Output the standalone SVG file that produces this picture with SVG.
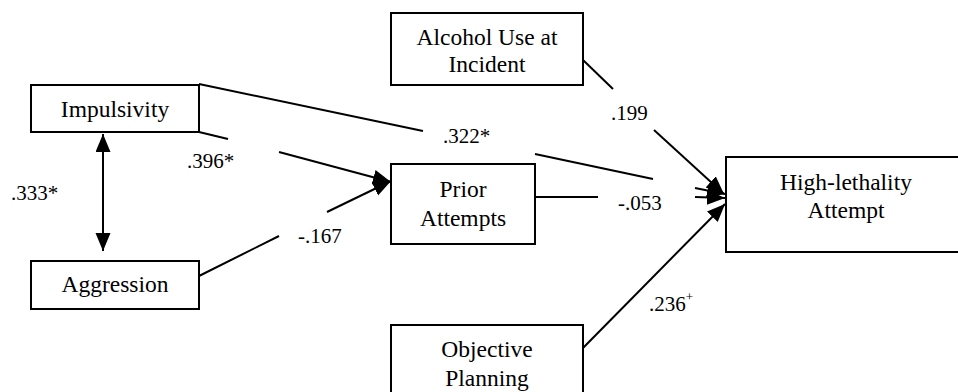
<svg xmlns="http://www.w3.org/2000/svg" width="958" height="392" viewBox="0 0 958 392">
<style>
.box{fill:#fff;stroke:#000;stroke-width:2}
.nt{font-size:23.5px;fill:#000;text-anchor:middle}
.lb{font-size:21px;fill:#000}
.ln{stroke:#000;stroke-width:2;fill:none}
.arr{marker-end:url(#ah)}
</style>
<defs>
<marker id="ah" markerUnits="userSpaceOnUse" markerWidth="19" markerHeight="16" refX="18" refY="7.5" orient="auto-start-reverse">
<path d="M0,0 L18,7.5 L0,15 z" fill="#000"/>
</marker>
</defs>
<rect width="958" height="392" fill="#fff"/>
<g id="connectors">
<line class="ln" x1="103" y1="134" x2="103" y2="251" marker-start="url(#ah)" marker-end="url(#ah)"/>
<line class="ln" x1="199" y1="132" x2="228" y2="139"/>
<line class="ln arr" x1="279" y1="152" x2="391" y2="182"/>
<line class="ln" x1="199" y1="276" x2="279" y2="236"/>
<line class="ln arr" x1="327" y1="212" x2="391" y2="181"/>
<line class="ln" x1="199" y1="84" x2="423" y2="131"/>
<line class="ln" x1="535" y1="154" x2="653" y2="179"/>
<line class="ln arr" x1="695" y1="188" x2="725" y2="194"/>
<line class="ln" x1="535" y1="197" x2="598" y2="197"/>
<line class="ln arr" x1="695" y1="197" x2="725" y2="198"/>
<line class="ln" x1="583" y1="60" x2="613" y2="89"/>
<line class="ln arr" x1="654" y1="130" x2="724" y2="194"/>
<line class="ln arr" x1="583" y1="348" x2="725" y2="204"/>
</g>
<g font-family="'Liberation Serif', 'Times New Roman', serif">
<g id="impulsivity"><rect class="box" x="31" y="85" width="168" height="47"/><text class="nt" x="115" y="117">Impulsivity</text></g>
<g id="aggression"><rect class="box" x="31" y="261" width="168" height="48"/><text class="nt" x="115" y="292">Aggression</text></g>
<g id="prior"><rect class="box" x="391" y="164" width="144" height="80"/><text class="nt" x="463" y="197">Prior</text><text class="nt" x="463" y="226">Attempts</text></g>
<g id="alcohol"><rect class="box" x="391" y="13" width="192" height="72"/><text class="nt" x="487" y="45">Alcohol Use at</text><text class="nt" x="487" y="72">Incident</text></g>
<g id="objective"><rect class="box" x="391" y="325" width="192" height="80"/><text class="nt" x="487" y="357">Objective</text><text class="nt" x="487" y="386">Planning</text></g>
<g id="highlethality"><rect class="box" x="726" y="157" width="240" height="95"/><text class="nt" x="846" y="190">High-lethality</text><text class="nt" x="846" y="218">Attempt</text></g>
<g id="labels">
<text class="lb" x="11" y="200">.333*</text>
<text class="lb" x="187" y="168">.396*</text>
<text class="lb" x="298" y="243">-.167</text>
<text class="lb" x="443" y="143">.322*</text>
<text class="lb" x="611" y="120">.199</text>
<text class="lb" x="618" y="210">-.053</text>
<text class="lb" x="649" y="311">.236<tspan font-size="13" dy="-10">+</tspan></text>
</g>
</g>
</svg>
